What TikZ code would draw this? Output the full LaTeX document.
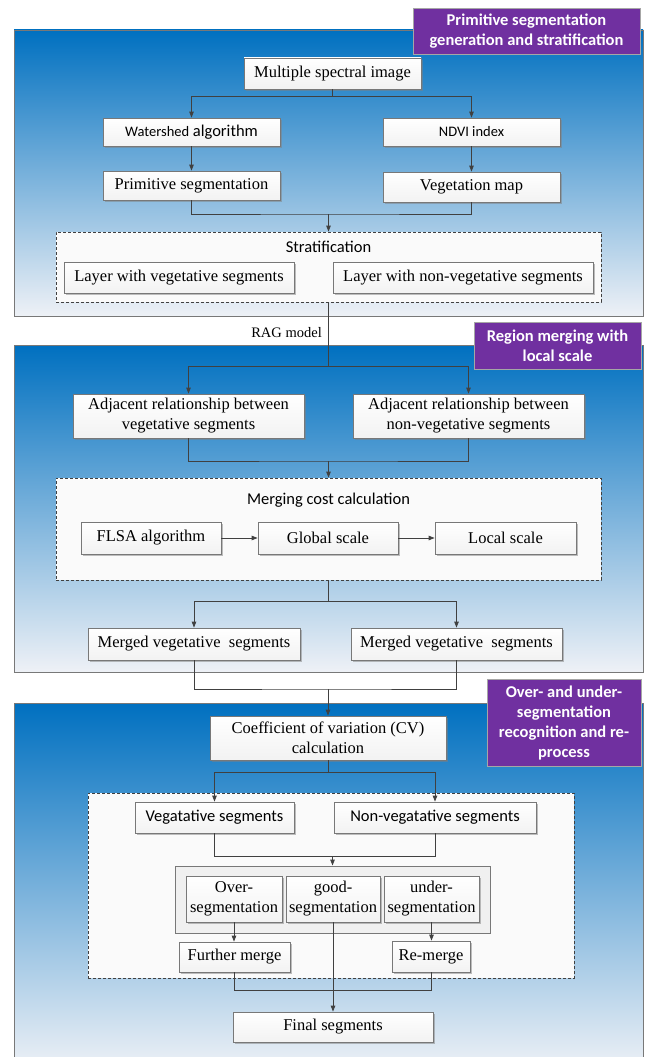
\documentclass[tikz,border=0pt]{standalone}
\usepackage{fontspec}
\setmainfont{Liberation Serif}
\newfontfamily\calfont{Carlito}
\usetikzlibrary{shadows,arrows.meta}
\definecolor{panTop}{RGB}{0,112,192}
\definecolor{panBot}{RGB}{238,241,246}
\definecolor{ttl}{RGB}{112,48,160}
\definecolor{lnc}{RGB}{64,64,64}
\definecolor{bord}{RGB}{120,120,120}
\tikzset{
  panel/.style={draw=bord, line width=0.9pt, top color=panTop, bottom color=panBot},
  box/.style={draw=bord, line width=0.7pt, top color=white, bottom color=gray!10,
    drop shadow={shadow xshift=1.6pt, shadow yshift=-1.6pt, fill=black!50, opacity=0.5},
    inner sep=1pt, align=center, font=\fontsize{16.5}{20}\selectfont},
  cbox/.style={box, font=\calfont\fontsize{16.5}{20}\selectfont},
  dbox/.style={draw=lnc, line width=0.7pt, dash pattern=on 3pt off 2pt, fill=white!96!gray, inner sep=0pt},
  ibox/.style={draw=bord, line width=0.9pt, fill=gray!12, inner sep=0pt},
  ttlbox/.style={draw=gray!70, line width=0.7pt, fill=ttl, text=white, align=center, inner sep=2pt,
    font=\calfont\bfseries\fontsize{16.5}{20}\selectfont,
    drop shadow={shadow xshift=1.2pt, shadow yshift=-1.2pt, fill=black!40, opacity=0.5}},
  lbl/.style={inner sep=0pt, font=\calfont\fontsize{16.5}{20}\selectfont},
  conn/.style={draw=lnc, line width=0.9pt},
  arr/.style={conn, -{Triangle[length=6pt,width=4.5pt]}}
}
\begin{document}
\begin{tikzpicture}[x=1pt,y=-1pt]
\useasboundingbox (0,0) rectangle (645,1057);
% panels
\path[panel] (14,30) rectangle (643,316);
\path[panel] (14,345) rectangle (643,672);
\path[panel] (14,703) rectangle (643,1070);
% titles
\node[ttlbox, minimum width=227pt, minimum height=46pt] (t1) at (526.5,31) {Primitive segmentation\\generation and stratification};
\node[ttlbox, minimum width=167pt, minimum height=47pt] (t2) at (557.5,345.5) {Region merging with\\local scale};
\node[ttlbox, minimum width=154pt, minimum height=87pt] (t3) at (564,722.5) {Over- and under-\\segmentation\\recognition and re-\\process};
% panel 1
\node[box, minimum width=177pt, minimum height=31pt] (msi) at (332.5,73.5) {Multiple spectral image};
\node[cbox, minimum width=177pt, minimum height=28pt] (ws) at (191.5,132) {{\fontsize{14.5}{18}\selectfont Watershed} algorithm};
\node[cbox, minimum width=177pt, minimum height=28pt, font=\calfont\fontsize{14.5}{18}\selectfont] (ndvi) at (471.5,132) {NDVI index};
\node[box, minimum width=177pt, minimum height=29pt] (prim) at (191.5,185.5) {Primitive segmentation};
\node[box, minimum width=177pt, minimum height=30pt] (veg) at (471.5,187) {Vegetation map};
\node[dbox, minimum width=545pt, minimum height=70pt] (strat) at (328.5,267) {};
\node[lbl] (stratl) at (328.5,247) {Stratification};
\node[box, minimum width=230pt, minimum height=31pt] (layv) at (179,277.5) {Layer with vegetative segments};
\node[box, minimum width=260pt, minimum height=31pt] (laynv) at (463,277.5) {Layer with non-vegetative segments};
\node[anchor=east, inner sep=0pt, font=\fontsize{14.5}{17}\selectfont] (rag) at (322,333) {RAG model};
% panel 2
\node[box, minimum width=231pt, minimum height=44pt] (adjv) at (188.5,416) {Adjacent relationship between\\vegetative segments};
\node[box, minimum width=231pt, minimum height=44pt] (adjnv) at (468.5,416) {Adjacent relationship between\\non-vegetative segments};
\node[dbox, minimum width=545pt, minimum height=102pt] (mcc) at (328.5,529) {};
\node[lbl] (mccl) at (328.5,500) {Merging cost calculation};
\node[box, minimum width=140pt, minimum height=32pt] (flsa) at (151,538) {FLSA algorithm};
\node[box, minimum width=140pt, minimum height=32pt] (glob) at (328,538) {Global scale};
\node[box, minimum width=141pt, minimum height=32pt] (loc) at (505.5,538) {Local scale};
\node[box, minimum width=212pt, minimum height=32pt] (mv1) at (194,644) {Merged vegetative~ segments};
\node[box, minimum width=211pt, minimum height=32pt] (mv2) at (456.5,644) {Merged vegetative~ segments};
% panel 3
\node[box, minimum width=236pt, minimum height=44pt] (cv) at (328,738) {Coefficient of variation (CV)\\calculation};
\node[dbox, minimum width=486pt, minimum height=185pt] (outer) at (331,885.5) {};
\node[cbox, minimum width=159pt, minimum height=31pt] (vs) at (214.5,817.5) {Vegatative segments};
\node[cbox, minimum width=202pt, minimum height=31pt] (nvs) at (435,817.5) {Non-vegatative segments};
\node[ibox, minimum width=315pt, minimum height=67pt] (inner) at (332.5,899.5) {};
\node[box, minimum width=96pt, minimum height=46pt] (over) at (234,899) {Over-\\segmentation};
\node[box, minimum width=94pt, minimum height=46pt] (good) at (333,899) {good-\\segmentation};
\node[box, minimum width=95pt, minimum height=46pt] (under) at (431.5,899) {under-\\segmentation};
\node[box, minimum width=111pt, minimum height=30pt] (fm) at (234.5,957) {Further merge};
\node[box, minimum width=78pt, minimum height=31pt] (rm) at (431,956.5) {Re-merge};
\node[box, minimum width=200pt, minimum height=30pt] (fin) at (333,1027) {Final segments};
% connectors
\coordinate (s1) at (332.5,96);
\draw[conn] (msi.south) -- (s1);
\draw[arr] (s1) -| (ws.north);
\draw[arr] (s1) -| (ndvi.north);
\draw[arr] (ws.south) -- (prim.north);
\draw[arr] (ndvi.south) -- (veg.north);
\coordinate (j1) at (328.5,214);
\draw[conn] (prim.south) |- (j1) -| (veg.south);
\draw[arr] (j1) -- (strat.north);
\coordinate (j2) at (328.5,366);
\draw[conn] (strat.south) -- (j2);
\draw[arr] (j2) -| (adjv.north);
\draw[arr] (j2) -| (adjnv.north);
\coordinate (j3) at (328.5,461);
\draw[conn] (adjv.south) |- (j3) -| (adjnv.south);
\draw[arr] (j3) -- (mcc.north);
\draw[arr] (flsa) -- (glob);
\draw[arr] (glob) -- (loc);
\coordinate (j4) at (328.5,601);
\draw[conn] (mcc.south) -- (j4);
\draw[arr] (j4) -| (mv1.north);
\draw[arr] (j4) -| (mv2.north);
\coordinate (j5) at (328,689);
\draw[conn] (mv1.south) |- (j5) -| (mv2.south);
\draw[arr] (j5) -- (cv.north);
\coordinate (j6) at (328,772);
\draw[conn] (cv.south) -- (j6);
\draw[arr] (j6) -| (vs.north);
\draw[arr] (j6) -| (nvs.north);
\coordinate (j7) at (332.5,856);
\draw[conn] (vs.south) |- (j7) -| (nvs.south);
\draw[arr] (j7) -- (inner.north);
\draw[arr] (over.south) -- (over.south |- fm.north);
\draw[arr] (under.south) -- (under.south |- rm.north);
\draw[arr] (good.south) -- (good.south |- fin.north);
\coordinate (j8) at (333,990);
\draw[conn] (fm.south) |- (j8) -| (rm.south);
\end{tikzpicture}
\end{document}
